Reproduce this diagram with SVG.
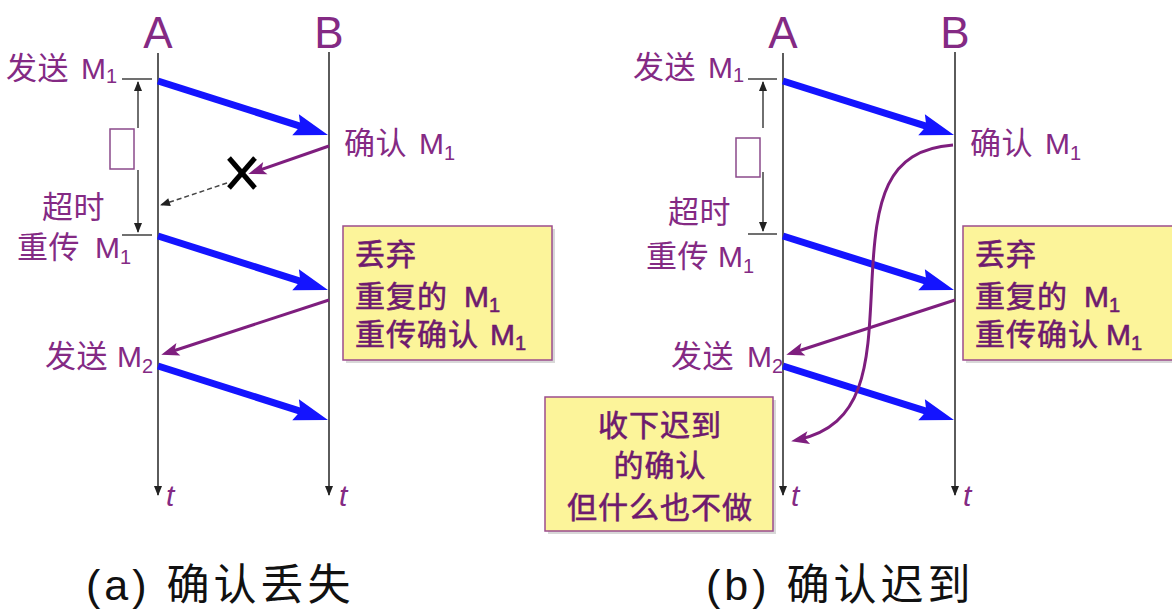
<svg xmlns="http://www.w3.org/2000/svg" width="1172" height="616" viewBox="0 0 1172 616">
<style>
.lbl{font-family:"Liberation Sans","Noto Sans CJK SC",sans-serif;font-size:31px;fill:#842A84;letter-spacing:0.5px}
.m{font-size:30px;letter-spacing:0}
.sub{font-size:20px;letter-spacing:0}
.ab{font-family:"Liberation Sans","Noto Sans CJK SC",sans-serif;font-size:44px;fill:#842A84;text-anchor:middle}
.t{font-family:"Liberation Sans",sans-serif;font-style:italic;font-size:30px;fill:#842A84}
.box{fill:#FCF49A;stroke:#9C4C8C;stroke-width:1.5}
.shadow{fill:#d8d8d8}
.btxt{font-family:"Liberation Sans","Noto Sans CJK SC",sans-serif;font-size:30px;fill:#6E1A6E;stroke:#6E1A6E;stroke-width:0.6;letter-spacing:1px}
.cap{font-family:"Liberation Sans","Noto Sans CJK SC",sans-serif;font-size:43px;fill:#111;letter-spacing:4px}
.life{stroke:#333;stroke-width:1.6;fill:none}
.tick{stroke:#222;stroke-width:1.3;fill:none}
.blue{stroke:#1414FF;stroke-width:7;fill:none}
.pur{stroke:#7E1E7E;stroke-width:3;fill:none}
.rect{fill:#fff;stroke:#8B4A8B;stroke-width:1.5}
</style>
<defs>
<marker id="bh" markerUnits="userSpaceOnUse" markerWidth="40" markerHeight="30" refX="8" refY="11" orient="auto" overflow="visible"><path d="M0,0 L34,11 L0,22 L5,11 z" fill="#1414FF"/></marker>
<marker id="ph" markerUnits="userSpaceOnUse" markerWidth="24" markerHeight="16" refX="12" refY="6.5" orient="auto" overflow="visible"><path d="M0,0 L18,6.5 L0,13 L4,6.5 z" fill="#7E1E7E"/></marker>
<marker id="kh" markerUnits="userSpaceOnUse" markerWidth="12" markerHeight="10" refX="9" refY="4" orient="auto-start-reverse" overflow="visible"><path d="M0,0 L10,4 L0,8 z" fill="#222"/></marker>
</defs>
<rect width="1172" height="616" fill="#fff"/>

<!-- Panel (a) -->
<g id="a-lifeline-A">
<text class="ab" x="158" y="48">A</text>
<line class="life" x1="158" y1="53" x2="158" y2="495" marker-end="url(#kh)"/>
<text class="t" x="166" y="506">t</text>
</g>
<g id="a-lifeline-B">
<text class="ab" x="329" y="48">B</text>
<line class="life" x1="329" y1="52" x2="329" y2="495" marker-end="url(#kh)"/>
<text class="t" x="339" y="506">t</text>
</g>
<g id="a-labels">
<text class="lbl" x="6" y="79">发送 <tspan class="m" x="81">M</tspan><tspan class="sub" dy="4">1</tspan></text>
<text class="lbl" x="344" y="154">确认 <tspan class="m" x="419">M</tspan><tspan class="sub" dy="6">1</tspan></text>
<text class="lbl" x="42" y="218">超时</text>
<text class="lbl" x="17" y="258">重传 <tspan class="m" x="95">M</tspan><tspan class="sub" dy="6">1</tspan></text>
<text class="lbl" x="45" y="367">发送 <tspan class="m" x="117">M</tspan><tspan class="sub" dy="6">2</tspan></text>
</g>
<g id="a-timer">
<line class="tick" x1="122" y1="79" x2="152" y2="79"/>
<line class="tick" x1="122" y1="235" x2="152" y2="235"/>
<rect class="rect" x="110" y="129" width="24" height="40"/>
</g>
<g id="a-box">
<rect class="shadow" x="346" y="229" width="209" height="134"/>
<rect class="box" x="343" y="226" width="209" height="134"/>
<text class="btxt" x="355" y="265">丢弃</text>
<text class="btxt" x="355" y="307">重复的 <tspan letter-spacing="0" x="464">M</tspan><tspan class="sub" dy="5">1</tspan></text>
<text class="btxt" x="355" y="345">重传确认 <tspan letter-spacing="0" x="490">M</tspan><tspan class="sub" dy="5">1</tspan></text>
</g>
<g id="a-xmark">
<line x1="229" y1="158" x2="255" y2="188" stroke="#000" stroke-width="5"/>
<line x1="255" y1="158" x2="229" y2="188" stroke="#000" stroke-width="5"/>
</g>
<text class="cap" x="86" y="600" id="a-caption">(a) 确认丢失</text>

<!-- Panel (b) -->
<g id="b-lifeline-A">
<text class="ab" x="783" y="48">A</text>
<line class="life" x1="783" y1="53" x2="783" y2="495" marker-end="url(#kh)"/>
<text class="t" x="791" y="506">t</text>
</g>
<g id="b-lifeline-B">
<text class="ab" x="955" y="48">B</text>
<line class="life" x1="955" y1="52" x2="955" y2="495" marker-end="url(#kh)"/>
<text class="t" x="963" y="506">t</text>
</g>
<g id="b-labels">
<text class="lbl" x="633" y="78">发送 <tspan class="m" x="708">M</tspan><tspan class="sub" dy="4">1</tspan></text>
<text class="lbl" x="970" y="154">确认 <tspan class="m" x="1045">M</tspan><tspan class="sub" dy="6">1</tspan></text>
<text class="lbl" x="668" y="223">超时</text>
<text class="lbl" x="646" y="267">重传 <tspan class="m" x="718">M</tspan><tspan class="sub" dy="6">1</tspan></text>
<text class="lbl" x="671" y="367">发送 <tspan class="m" x="747">M</tspan><tspan class="sub" dy="6">2</tspan></text>
</g>
<g id="b-timer">
<line class="tick" x1="748" y1="79" x2="777" y2="79"/>
<line class="tick" x1="748" y1="234" x2="777" y2="234"/>
<rect class="rect" x="736" y="138" width="24" height="39"/>
</g>
<g id="b-box-discard">
<rect class="shadow" x="966" y="229" width="215" height="134"/>
<rect class="box" x="963" y="226" width="215" height="134"/>
<text class="btxt" x="975" y="265">丢弃</text>
<text class="btxt" x="975" y="307">重复的 <tspan letter-spacing="0" x="1084">M</tspan><tspan class="sub" dy="5">1</tspan></text>
<text class="btxt" x="975" y="345">重传确认<tspan letter-spacing="0" x="1106">M</tspan><tspan class="sub" dy="5">1</tspan></text>
</g>
<g id="b-box-late">
<rect class="shadow" x="548" y="400" width="228" height="134"/>
<rect class="box" x="545" y="397" width="228" height="134"/>
<text class="btxt" x="660" y="436" text-anchor="middle" letter-spacing="3">收下迟到</text>
<text class="btxt" x="660" y="476" text-anchor="middle" letter-spacing="3">的确认</text>
<text class="btxt" x="660" y="518" text-anchor="middle" letter-spacing="3">但什么也不做</text>
</g>
<text class="cap" x="706" y="600" id="b-caption">(b) 确认迟到</text>

<!-- Connectors -->
<g id="connectors">
<line class="tick" x1="138" y1="128" x2="138" y2="82" marker-end="url(#kh)"/>
<line class="tick" x1="138" y1="170" x2="138" y2="232" marker-end="url(#kh)"/>
<line class="tick" x1="763" y1="128" x2="763" y2="82" marker-end="url(#kh)"/>
<line class="tick" x1="763" y1="172" x2="763" y2="231" marker-end="url(#kh)"/>

<line class="blue" x1="158" y1="81" x2="303.2" y2="127.1" marker-end="url(#bh)"/>
<line class="blue" x1="158" y1="236" x2="303.2" y2="282.1" marker-end="url(#bh)"/>
<line class="blue" x1="158" y1="366" x2="303.2" y2="412.1" marker-end="url(#bh)"/>
<line class="pur" x1="329" y1="146" x2="254" y2="172" marker-end="url(#ph)"/>
<line x1="227" y1="183" x2="161" y2="205" stroke="#444" stroke-width="1.5" stroke-dasharray="5,3" marker-end="url(#kh)"/>
<line class="pur" x1="329" y1="300" x2="167" y2="353" marker-end="url(#ph)"/>

<line class="blue" x1="783" y1="81" x2="929.2" y2="127.1" marker-end="url(#bh)"/>
<line class="blue" x1="783" y1="236" x2="929.2" y2="282.1" marker-end="url(#bh)"/>
<line class="blue" x1="783" y1="366" x2="929.2" y2="412.1" marker-end="url(#bh)"/>
<line class="pur" x1="955" y1="300" x2="792" y2="353" marker-end="url(#ph)"/>
<path class="pur" d="M953,145 C885,150 876,200 872,280 C868,360 868,425 797,440" marker-end="url(#ph)"/>
</g>
</svg>
